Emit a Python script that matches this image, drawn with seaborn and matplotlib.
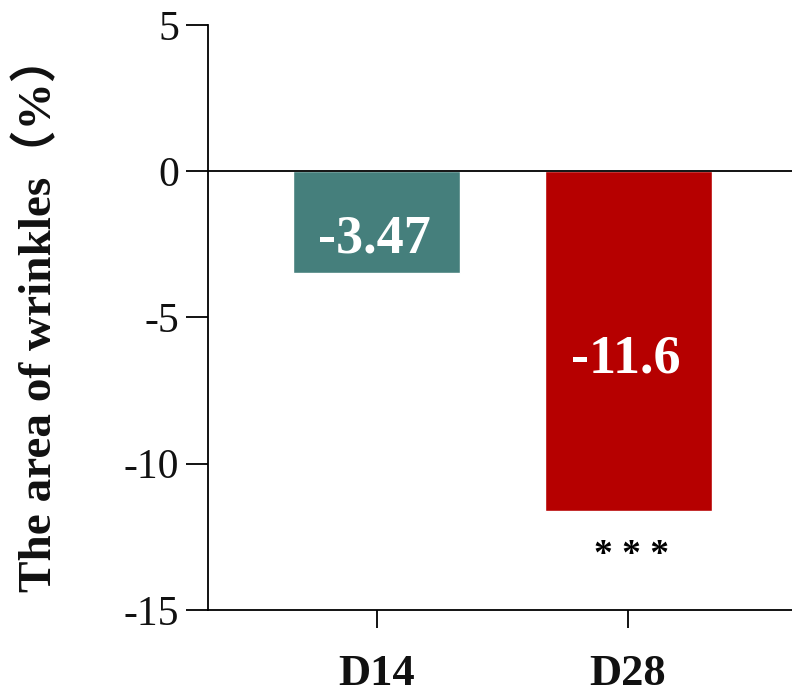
import pandas as pd
import matplotlib
matplotlib.use("Agg")
import matplotlib.pyplot as plt
import seaborn as sns

# --- Dati ---
days = ["D14", "D28"]
changes = [-3.47, -11.6]
value_labels = ["-3.47", "-11.6"]
stars = ["", "* * *"]
bar_colors = ["#457f7c", "#b60000"]
y_ticks = [5, 0, -5, -10, -15]

df = pd.DataFrame({"day": days, "change": changes})

sns.set_theme(style="ticks")
plt.rcParams["font.family"] = ["Liberation Serif", "Noto Sans CJK SC"]

fig = plt.figure(figsize=(7.92, 6.98), dpi=100)
ax = fig.add_axes([0.2626, 0.1261, 0.7374, 0.8381])

sns.barplot(data=df, x="day", y="change", hue="day", palette=bar_colors,
            width=0.665, legend=False, ax=ax, saturation=1)

ax.axhline(0, color="black", linewidth=1.3, zorder=3)

# etichette valori dentro le barre
label_base = [-2.77, -6.87]
for i, (lab, yb) in enumerate(zip(value_labels, label_base)):
    ax.text(i - 0.01, yb, lab, color="white", fontsize=39,
            fontweight="bold", ha="center", va="baseline")

# asterischi significatività
for i, (v, s) in enumerate(zip(changes, stars)):
    if s:
        ax.text(i + 0.015, v - 1.85, s, color="black", fontsize=27,
                fontweight="bold", ha="center", va="baseline")

ax.set_ylim(-15, 5)
ax.set_xlim(-0.673, 1.653)
ax.set_yticks(y_ticks)
ax.set_yticklabels([str(t) for t in y_ticks], fontsize=30)
ax.set_xticks(range(len(days)))
ax.set_xticklabels(days, fontsize=32, fontweight="bold")
ax.tick_params(axis="y", length=16, width=1.3, color="black", pad=5, labelcolor="#111111")
ax.tick_params(axis="x", length=13, width=1.3, color="black", pad=19, labelcolor="#111111")
ax.set_xlabel("")
ax.set_ylabel("The area of wrinkles（%）", fontsize=34, fontweight="bold", color="#111111")
ax.yaxis.set_label_coords(-0.252, 0.507)

sns.despine(ax=ax, top=True, right=True)
for sp in ["left", "bottom"]:
    ax.spines[sp].set_linewidth(1.3)
    ax.spines[sp].set_color("black")

fig.savefig("out.png", dpi=100, facecolor="white")
